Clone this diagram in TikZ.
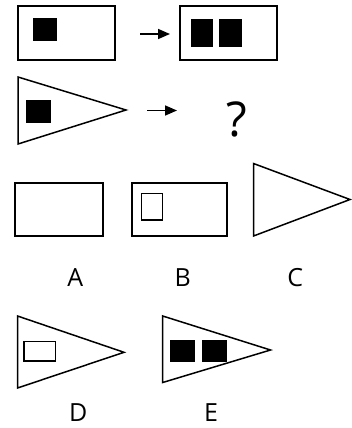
\documentclass[tikz,border=0pt]{standalone}
\usepackage{fontspec}
\setmainfont{Open Sans}
\usetikzlibrary{arrows.meta}
\begin{document}
\begin{tikzpicture}[x=1pt,y=-1pt,
  shapeline/.style={draw=black,line width=1.5pt,line join=miter},
  blk/.style={fill=black},
  arr/.style={line width=1.6pt,-{Triangle[length=12pt,width=10pt]}},
  lbl/.style={anchor=base,inner sep=0pt,font=\fontsize{25}{25}\selectfont},
  qm/.style={anchor=base,inner sep=0pt,font=\fontsize{48}{48}\selectfont}]
\useasboundingbox (0,0) rectangle (351,428);
% row 1
\draw[shapeline] (18,6) rectangle (115,60);
\fill[blk] (33,18) rectangle (57,41);
\draw[shapeline] (180,6) rectangle (277,60);
\fill[blk] (191,19) rectangle (213,47);
\fill[blk] (219,19) rectangle (242,47);
\coordinate (a1s) at (140,34);
\coordinate (a1e) at (170,34);
\draw[arr] (a1s) -- (a1e);
% row 2
\draw[shapeline] (18,77) -- (126,110) -- (18,144) -- cycle;
\fill[blk] (25.5,100) rectangle (50.5,122.5);
\coordinate (a2s) at (147,110.5);
\coordinate (a2e) at (177,110.5);
\draw[arr] (a2s) -- (a2e);
\node[qm] (q) at (236.5,136.7) {?};
% options row
\draw[shapeline] (15,183) rectangle (103,236);
\draw[shapeline] (132,183) rectangle (227,236);
\draw[shapeline] (141.5,193.5) rectangle (162.5,220);
\draw[shapeline] (253.5,163.5) -- (350,199.5) -- (253.5,236) -- cycle;
\node[lbl] (la) at (75.3,286) {A};
\node[lbl] (lb) at (182.7,286) {B};
\node[lbl] (lc) at (295.3,286) {C};
% D and E
\draw[shapeline] (17.5,316) -- (124,352.3) -- (17.5,388) -- cycle;
\draw[shapeline] (24,341.5) rectangle (55.5,361);
\draw[shapeline] (162.7,316) -- (270.5,350) -- (162.7,382.5) -- cycle;
\fill[blk] (170,339.5) rectangle (195,361.5);
\fill[blk] (201.7,339.5) rectangle (226.5,361.5);
\node[lbl] (ld) at (78.3,421.7) {D};
\node[lbl] (le) at (211,421.7) {E};
\end{tikzpicture}
\end{document}
